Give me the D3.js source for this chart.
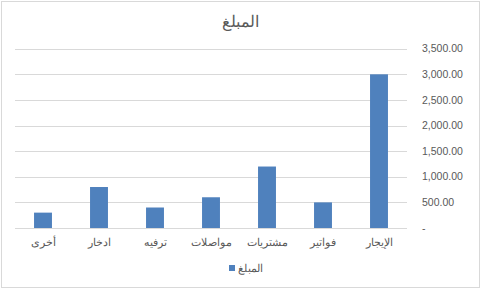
<!DOCTYPE html>
<html lang="ar">
<head>
<meta charset="UTF-8">
<title>المبلغ</title>
<script src="https://d3js.org/d3.v7.min.js"></script>
<style>
  body { margin: 0; background: #fff; }
  svg text { font-family: "Liberation Sans", Arial, sans-serif; fill: #595959; }
</style>
</head>
<body>
<script>
// data, in reading order from right to left (Excel RTL chart)
const categories = ["الإيجار", "فواتير", "مشتريات", "مواصلات", "ترفيه", "ادخار", "أخرى"];
const values = [3000, 500, 1200, 600, 400, 800, 300];
const yTicks = [0, 500, 1000, 1500, 2000, 2500, 3000, 3500];
const seriesName = "المبلغ";

const W = 481, H = 290;
const plot = {left: 15, right: 407, top: 48.7, bottom: 228};

const svg = d3.select("body").append("svg")
    .attr("width", W)
    .attr("height", H);

// chart frame
svg.append("rect")
    .attr("x", 1.5).attr("y", 1.5)
    .attr("width", W - 3).attr("height", H - 4)
    .attr("fill", "#fff")
    .attr("stroke", "#d9d9d9");

// x reversed: first category on the right
const x = d3.scaleBand()
    .domain(categories)
    .range([plot.right, plot.left])
    .paddingInner(0.68)
    .paddingOuter(0.34);

const y = d3.scaleLinear()
    .domain([0, 3500])
    .range([plot.bottom, plot.top]);

// gridlines
svg.append("g")
    .selectAll("line")
    .data(yTicks)
    .join("line")
    .attr("x1", plot.left).attr("x2", plot.right)
    .attr("y1", d => Math.round(y(d)) + 0.5)
    .attr("y2", d => Math.round(y(d)) + 0.5)
    .attr("stroke", "#d9d9d9");

// y axis labels on the right, left-aligned
const fmt = d => d === 0 ? "-" : d3.format(",.2f")(d);
svg.append("g")
    .selectAll("text")
    .data(yTicks)
    .join("text")
    .attr("x", 422)
    .attr("y", d => y(d))
    .attr("dy", "0.35em")
    .attr("font-size", 10.5)
    .text(fmt);

// bars
svg.append("g")
    .selectAll("rect")
    .data(values)
    .join("rect")
    .attr("x", (d, i) => x(categories[i]))
    .attr("width", x.bandwidth())
    .attr("y", d => y(d))
    .attr("height", d => y(0) - y(d))
    .attr("fill", "#4f81bd");

// category labels
svg.append("g")
    .selectAll("text")
    .data(categories)
    .join("text")
    .attr("x", d => x(d) + x.bandwidth() / 2)
    .attr("y", 242)
    .attr("dy", "0.35em")
    .attr("text-anchor", "middle")
    .attr("font-size", 11)
    .text(d => d);

// title
svg.append("text")
    .attr("x", 240)
    .attr("y", 21)
    .attr("dy", "0.35em")
    .attr("text-anchor", "middle")
    .attr("font-size", 16)
    .text(seriesName);

// legend
const legend = svg.append("g").attr("transform", "translate(229,265)");
legend.append("rect")
    .attr("width", 6).attr("height", 6)
    .attr("fill", "#4f81bd");
legend.append("text")
    .attr("x", 9)
    .attr("y", 3)
    .attr("dy", "0.35em")
    .attr("font-size", 10.5)
    .text(seriesName);
</script>
</body>
</html>
